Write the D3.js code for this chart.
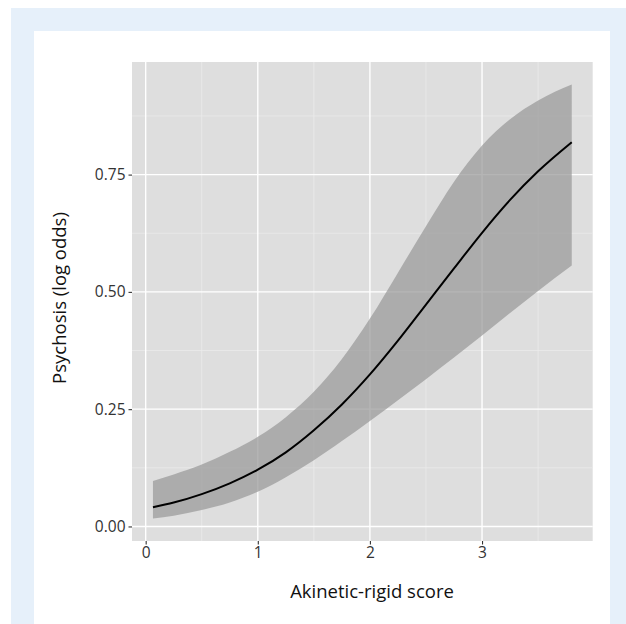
<!DOCTYPE html>
<html>
<head>
<meta charset="utf-8">
<script src="https://cdn.jsdelivr.net/npm/d3@7"></script>
<style>
  html, body { margin: 0; padding: 0; background: #fff; }
  svg { display: block; }
</style>
</head>
<body>
<div id="chart"></div>
<script>
// values
const score = [0.065, 0.25, 0.5, 0.75, 1.0, 1.25, 1.5, 1.75, 2.0, 2.25, 2.5, 2.75, 3.0, 3.25, 3.5, 3.8];
const fit   = [0.041, 0.051, 0.069, 0.092, 0.121, 0.158, 0.205, 0.260, 0.324, 0.396, 0.473, 0.550, 0.626, 0.696, 0.757, 0.819];
const upper = [0.097, 0.111, 0.132, 0.159, 0.191, 0.233, 0.287, 0.357, 0.443, 0.541, 0.640, 0.735, 0.812, 0.868, 0.908, 0.942];
const lower = [0.017, 0.023, 0.035, 0.051, 0.074, 0.105, 0.141, 0.182, 0.225, 0.269, 0.314, 0.360, 0.407, 0.455, 0.502, 0.556];

const xTicks = [0, 1, 2, 3];
const xMinor = [0.5, 1.5, 2.5, 3.5];
const yTicks = [0, 0.25, 0.5, 0.75];
const yMinor = [0.125, 0.375, 0.625, 0.875];

const width = 626, height = 624;
const panel = { left: 132, right: 592.7, top: 62, bottom: 541 };
const font = "'Open Sans', Lato, sans-serif";

const svg = d3.select('#chart').append('svg')
    .attr('width', width)
    .attr('height', height);

// page frame
svg.append('rect').attr('x', 11).attr('y', 8).attr('width', width - 11).attr('height', height - 8).attr('fill', '#e6f0fa');
svg.append('rect').attr('x', 34).attr('y', 31).attr('width', 610 - 34).attr('height', height - 31).attr('fill', '#fff');

const x = d3.scaleLinear().domain([-0.122, 3.987]).range([panel.left, panel.right]);
const y = d3.scaleLinear().domain([-0.031, 0.99]).range([panel.bottom, panel.top]);

svg.append('rect')
    .attr('x', panel.left).attr('y', panel.top)
    .attr('width', panel.right - panel.left).attr('height', panel.bottom - panel.top)
    .attr('fill', '#dedede');

// grid
const grid = svg.append('g');
grid.selectAll('.vminor').data(xMinor).join('line')
    .attr('x1', d => x(d)).attr('x2', d => x(d))
    .attr('y1', panel.top).attr('y2', panel.bottom)
    .attr('stroke', '#ececec').attr('stroke-width', 0.7);
grid.selectAll('.hminor').data(yMinor).join('line')
    .attr('y1', d => y(d)).attr('y2', d => y(d))
    .attr('x1', panel.left).attr('x2', panel.right)
    .attr('stroke', '#ececec').attr('stroke-width', 0.7);
grid.selectAll('.vmajor').data(xTicks).join('line')
    .attr('x1', d => x(d)).attr('x2', d => x(d))
    .attr('y1', panel.top).attr('y2', panel.bottom)
    .attr('stroke', '#fff').attr('stroke-width', 1.4);
grid.selectAll('.hmajor').data(yTicks).join('line')
    .attr('y1', d => y(d)).attr('y2', d => y(d))
    .attr('x1', panel.left).attr('x2', panel.right)
    .attr('stroke', '#fff').attr('stroke-width', 1.4);

const rows = score.map((s, i) => ({ s, fit: fit[i], lo: lower[i], hi: upper[i] }));

// confidence band
svg.append('path')
    .datum(rows)
    .attr('d', d3.area()
        .x(d => x(d.s))
        .y0(d => y(d.lo))
        .y1(d => y(d.hi))
        .curve(d3.curveMonotoneX))
    .attr('fill', '#999')
    .attr('fill-opacity', 0.72);

// fitted line
svg.append('path')
    .datum(rows)
    .attr('d', d3.line()
        .x(d => x(d.s))
        .y(d => y(d.fit))
        .curve(d3.curveMonotoneX))
    .attr('fill', 'none')
    .attr('stroke', '#000')
    .attr('stroke-width', 2);

// axes
const xAxis = svg.append('g')
    .attr('transform', `translate(0,${panel.bottom})`)
    .call(d3.axisBottom(x).tickValues(xTicks).tickFormat(d3.format('d')).tickSize(3.5).tickPadding(2));
const yAxis = svg.append('g')
    .attr('transform', `translate(${panel.left},0)`)
    .call(d3.axisLeft(y).tickValues(yTicks).tickFormat(d3.format('.2f')).tickSize(3.5).tickPadding(3));

[xAxis, yAxis].forEach(a => {
    a.select('.domain').remove();
    a.selectAll('.tick line').attr('stroke', '#333').attr('stroke-width', 1.1);
    a.selectAll('.tick text')
        .attr('fill', '#333')
        .style('font-family', font)
        .style('font-size', '15.5px');
});

// titles
svg.append('text')
    .attr('x', 372).attr('y', 598)
    .attr('text-anchor', 'middle')
    .style('font-family', font).style('font-size', '18.5px')
    .attr('fill', '#111')
    .text('Akinetic-rigid score');

svg.append('text')
    .attr('transform', 'translate(66,298) rotate(-90)')
    .attr('text-anchor', 'middle')
    .style('font-family', font).style('font-size', '18.5px')
    .attr('fill', '#111')
    .text('Psychosis (log odds)');
</script>
</body>
</html>
